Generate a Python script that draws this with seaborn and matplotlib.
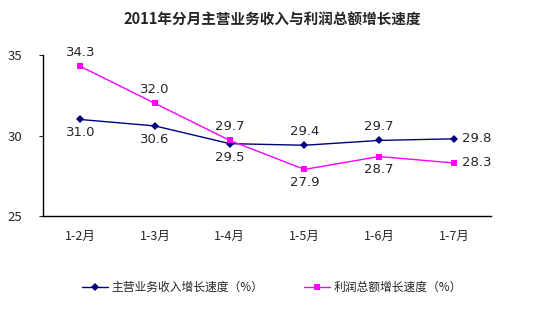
import matplotlib
matplotlib.use("Agg")
import matplotlib.pyplot as plt
import seaborn as sns
import pandas as pd

categories = ["1-2月", "1-3月", "1-4月", "1-5月", "1-6月", "1-7月"]
revenue = [31.0, 30.6, 29.5, 29.4, 29.7, 29.8]
profit = [34.3, 32.0, 29.7, 27.9, 28.7, 28.3]
series_names = ["主营业务收入增长速度（%）", "利润总额增长速度（%）"]
title = "2011年分月主营业务收入与利润总额增长速度"

sns.set_style("white")
plt.rcParams['font.family'] = ['Noto Sans CJK SC', 'DejaVu Sans']

fig = plt.figure(figsize=(5.44, 3.24), dpi=100)
ax = fig.add_axes([0.079, 0.333, 0.824, 0.497])

df = pd.DataFrame({"x": categories * 2,
                   "y": revenue + profit,
                   "s": [series_names[0]] * 6 + [series_names[1]] * 6})
xs = list(range(len(categories)))
df["xi"] = xs * 2

sns.lineplot(data=df, x="xi", y="y", hue="s", style="s",
             palette=["#000080", "#FF00FF"], markers=["D", "s"], dashes=False,
             markersize=4.5, linewidth=1, markeredgewidth=0, ax=ax, legend=True)

# labels
rev_pos = ["below", "below", "below", "above", "above", "right"]
pro_pos = ["above", "above", "above", "below", "below", "right"]
for vals, poss in [(revenue, rev_pos), (profit, pro_pos)]:
    for i, (v, p) in enumerate(zip(vals, poss)):
        if p == "above":
            ax.annotate(f"{v:.1f}", (i, v), xytext=(0, 5), textcoords="offset points",
                        ha="center", va="bottom", fontsize=9.5, family="DejaVu Sans")
        elif p == "below":
            ax.annotate(f"{v:.1f}", (i, v), xytext=(0, -5), textcoords="offset points",
                        ha="center", va="top", fontsize=9.5, family="DejaVu Sans")
        else:
            ax.annotate(f"{v:.1f}", (i, v), xytext=(6, 0), textcoords="offset points",
                        ha="left", va="center", fontsize=9.5, family="DejaVu Sans")

ax.set_xlim(-0.5, len(categories) - 0.5)
ax.set_ylim(25, 35)
ax.set_yticks([25, 30, 35])
ax.set_xticks(xs)
ax.set_xticklabels(categories, fontsize=9)
ax.tick_params(axis="y", labelsize=9.5, length=3, direction="out", left=True, pad=12)
ax.tick_params(axis="x", length=0, pad=10)
ax.set_xlabel("")
ax.set_ylabel("")
for s in ["top", "right"]:
    ax.spines[s].set_visible(False)
for s in ["left", "bottom"]:
    ax.spines[s].set_color("black")
    ax.spines[s].set_linewidth(1)

handles, labels = ax.get_legend_handles_labels()
ax.get_legend().remove()
fig.legend(handles, labels, loc="center", bbox_to_anchor=(0.5, 0.113), ncol=2,
           frameon=False, fontsize=8.5, handlelength=2.2, columnspacing=3.5, handletextpad=0.3)

fig.text(0.5, 0.94, title, ha="center", va="center", fontsize=10.5, fontweight="bold")

fig.savefig("out.png", dpi=100)
